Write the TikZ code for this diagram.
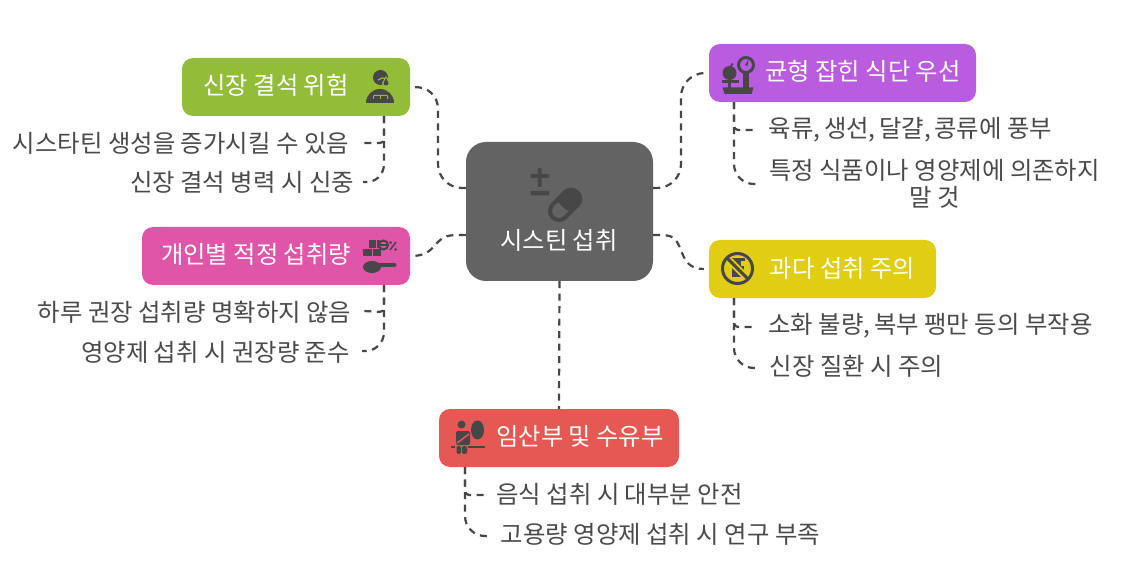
\documentclass[tikz,border=0pt]{standalone}
\usepackage{fontspec}
\setmainfont{Noto Sans CJK KR}
\usetikzlibrary{calc}
\definecolor{hubgrey}{HTML}{636363}
\definecolor{icondark}{HTML}{474747}
\definecolor{leafgrey}{HTML}{4A4A4A}
\definecolor{greenbox}{HTML}{93BC38}
\definecolor{purplebox}{HTML}{B95CE0}
\definecolor{pinkbox}{HTML}{DF55A8}
\definecolor{yellowbox}{HTML}{E0CD14}
\definecolor{redbox}{HTML}{E65853}
\tikzset{
  topic/.style={rectangle, rounded corners=11pt, minimum height=58pt, inner sep=0pt},
  title/.style={text=white, inner sep=0pt, font=\fontsize{24.3}{28}\selectfont, text height=22pt, text depth=2pt},
  leaf/.style={text=leafgrey, inner sep=0pt, align=center, font=\fontsize{24.4}{27}\selectfont, text height=22pt, text depth=2pt},
  link/.style={draw=icondark, line width=2.2pt, dash pattern=on 7pt off 5.5pt, rounded corners=#1},
  link/.default=4pt,
  icon/.style={fill=icondark, draw=none}
}
\begin{document}
\begin{tikzpicture}[x=1pt,y=-1pt]
\useasboundingbox (0,0) rectangle (1125,588);

	% the five topics round the middle
	\node[rectangle, rounded corners=20pt, minimum width=187pt, minimum height=139pt, fill=hubgrey] at (559.5,211.5) (hub) {};
	\node[topic, minimum width=228pt, fill=greenbox] at (296,87) (stones) {};
	\node[topic, minimum width=267pt, fill=purplebox] at (842.5,73) (diet) {};
	\node[topic, minimum width=268pt, fill=pinkbox] at (276,256) (dose) {};
	\node[topic, minimum width=227pt, fill=yellowbox] at (822.5,269) (excess) {};
	\node[topic, minimum width=240pt, fill=redbox] at (559,438) (mother) {};

	\node[title] at (559,240) (hubtext) {시스틴 섭취};
	\node[title] at (276,85) {신장 결석 위험};
	\node[title] at (863,71) {균형 잡힌 식단 우선};
	\node[title] at (256,254) {개인별 적정 섭취량};
	\node[title] at (842.5,268) {과다 섭취 주의};
	\node[title] at (580,435) {임산부 및 수유부};

	\node[leaf] at (181,143) (stones1) {시스타틴 생성을 증가시킬 수 있음};
	\node[leaf] at (242,182) (stones2) {신장 결석 병력 시 신중};
	\node[leaf] at (910.5,128) (diet1) {육류,\hspace{-2pt} 생선,\hspace{-2pt} 달걀,\hspace{-2pt} 콩류에 풍부};
	\node[leaf, text height=, text depth=] at (934.5,184) (diet2) {특정 식품이나 영양제에 의존하지\\말 것};
	\node[leaf] at (194.5,311) (dose1) {하루 권장 섭취량 명확하지 않음};
	\node[leaf] at (215.5,351) (dose2) {영양제 섭취 시 권장량 준수};
	\node[leaf] at (930.5,324) (excess1) {소화 불량,\hspace{-2pt} 복부 팽만 등의 부작용};
	\node[leaf] at (856.5,365) (excess2) {신장 질환 시 주의};
	\node[leaf] at (619.5,493) (mother1) {음식 섭취 시 대부분 안전};
	\node[leaf] at (660.5,533) (mother2) {고용량 영양제 섭취 시 연구 부족};

	% hub connectors
	\draw[link=24pt] ([yshift=23.5pt]hub.west) -- (438,188) -- (438,85) -- ([xshift=7pt]stones.east);
	\draw[link=24pt] ([yshift=23.5pt]hub.east) -- (681,188) -- (681,73) -- ([xshift=-6pt]diet.west);
	\draw[link] ([yshift=-23.5pt]hub.west) -- ++(-8,0) .. controls (432,236) and (438,256) .. ([xshift=1pt]dose.east);
	\draw[link] ([yshift=-23.5pt]hub.east) -- ++(10,0) .. controls (686,238) and (676,269) .. ([xshift=-5pt]excess.west);
	\draw[link] (hub.south) -- (mother.north);

	% leaf connectors
	\draw[link] ([xshift=88pt]stones.south) -- (384,143) -- ([xshift=15pt]stones1.east);
	\draw[link=20pt] ([xshift=88pt]stones.south) -- (384,184) -- ([xshift=9pt]stones2.east);
	\draw[link] ([xshift=-108.5pt]diet.south) -- (734,130) -- (756,130);
	\draw[link=20pt] ([xshift=-108.5pt]diet.south) -- (734,184) -- (756,184);
	\draw[link] ([xshift=108pt]dose.south) -- (384,312) -- ([xshift=12pt]dose1.east);
	\draw[link=20pt] ([xshift=108pt]dose.south) -- (384,352) -- ([xshift=12pt]dose2.east);
	\draw[link] ([xshift=-88.5pt]excess.south) -- (734,327) -- (756,327);
	\draw[link=20pt] ([xshift=-88.5pt]excess.south) -- (734,368) -- (756,368);
	\draw[link] ([xshift=-94pt]mother.south) -- (465,495) -- (486,495);
	\draw[link=20pt] ([xshift=-94pt]mother.south) -- (465,536) -- (487,536);

	% hub icon
	\fill[icon, rounded corners=1pt] (530.5,174) rectangle (549,178);
	\fill[icon, rounded corners=1pt] (537.7,168) rectangle (541.7,187);
	\fill[icon, rounded corners=1pt] (530.5,191) rectangle (549,195.5);
	\begin{scope}[shift={(565,205)}, rotate=45]
		\draw[icondark, line width=4pt, rounded corners=9pt] (-17.5,-9) rectangle (17.5,9);
		\fill[icon, rounded corners=10pt] (-3,-11) -- (19.5,-11) -- (19.5,11) -- (-3,11) [sharp corners] -- cycle;
	\end{scope}

	% stones icon
	\fill[icon] (380.5,77.5) circle (7.5pt);
	\draw[greenbox, line width=1.2pt] (378,80) -- (382,78) -- (388,79);
	\fill[greenbox] (386,76) -- (390,83) arc (0:-180:4pt) -- cycle;
	\fill[icon] (386,78) -- (388.5,83) arc (0:-180:2.5pt) -- cycle;
	\fill[icon] (366,103) arc (180:0:14pt) -- cycle;
	\fill[greenbox, rounded corners=1pt] (373,95) rectangle (388,103.5);
	\fill[icon] (374,96.5) rectangle (380,99.5);
	\fill[icon] (381,96.5) rectangle (387,99.5);
	\fill[icon] (372,99.5) rectangle (389,103);

	% scale icon
	\draw[icondark, line width=3pt] (746,65) circle (7.5pt);
	\fill[icon] (745,65) -- (748.5,59.5) -- (747.5,66) -- cycle;
	\fill[icon] (743,72) rectangle (749,88);
	\fill[icon] (722.5,87.5) -- (753.5,87.5) -- (751.5,94) -- (724.5,94) -- cycle;
	\fill[icon] (729.5,73) circle (7pt);
	\fill[icon] (729,67) -- (732,63) -- (733.5,64) -- (730.5,68) -- cycle;
	\fill[icon] (722,80.5) rectangle (739,83);
	\fill[icon] (728,83) rectangle (731,88);

	% excess icon
	\fill[icon] (732,266) rectangle (744,277);
	\fill[icon] (735,260) rectangle (741,266);
	\fill[icon] (731,258) rectangle (745,261);
	\draw[yellowbox, line width=7pt] (727,258) -- (748,279);
	\draw[icondark, line width=3pt] (737.5,268.5) circle (15pt);
	\draw[icondark, line width=3pt] (727,258) -- (748,279);

	% dose icon
	\fill[icon] (369,240) rectangle (376,248);
	\fill[icon] (377,240) rectangle (380,248);
	\fill[icon] (363,249.5) rectangle (372,256);
	\fill[icon] (373,249.5) rectangle (381,256);
	\draw[icondark, line width=2pt] (383.5,245) circle (4.5pt);
	\draw[icondark, line width=1.5pt] (380,245) -- (387,245);
	\draw[icondark, line width=1.5pt] (390,250) -- (396,242);
	\fill[icon] (390.5,242.5) circle (1.5pt);
	\fill[icon] (395.5,249.5) circle (1.5pt);
	\fill[icon] (372,267) ellipse (9pt and 6pt);
	\draw[icondark, line width=4pt, line cap=round] (372,265) -- (394.5,265);

	% mother icon
	\fill[icon] (461.5,424.5) circle (4pt);
	\fill[icon] (477.5,430) ellipse (6.5pt and 9.5pt);
	\fill[icon, rounded corners=2pt] (456,431) rectangle (470,445);
	\draw[redbox, line width=1.5pt] (457,443) -- (469,434);
	\fill[icon, rounded corners=2pt] (456.5,446) rectangle (461,454);
	\fill[icon, rounded corners=2pt] (462,446) rectangle (467,454);
	\fill[icon] (451,445.5) rectangle (455,448);
	\fill[icon] (468,445.5) rectangle (484.5,448);
\end{tikzpicture}
\end{document}
